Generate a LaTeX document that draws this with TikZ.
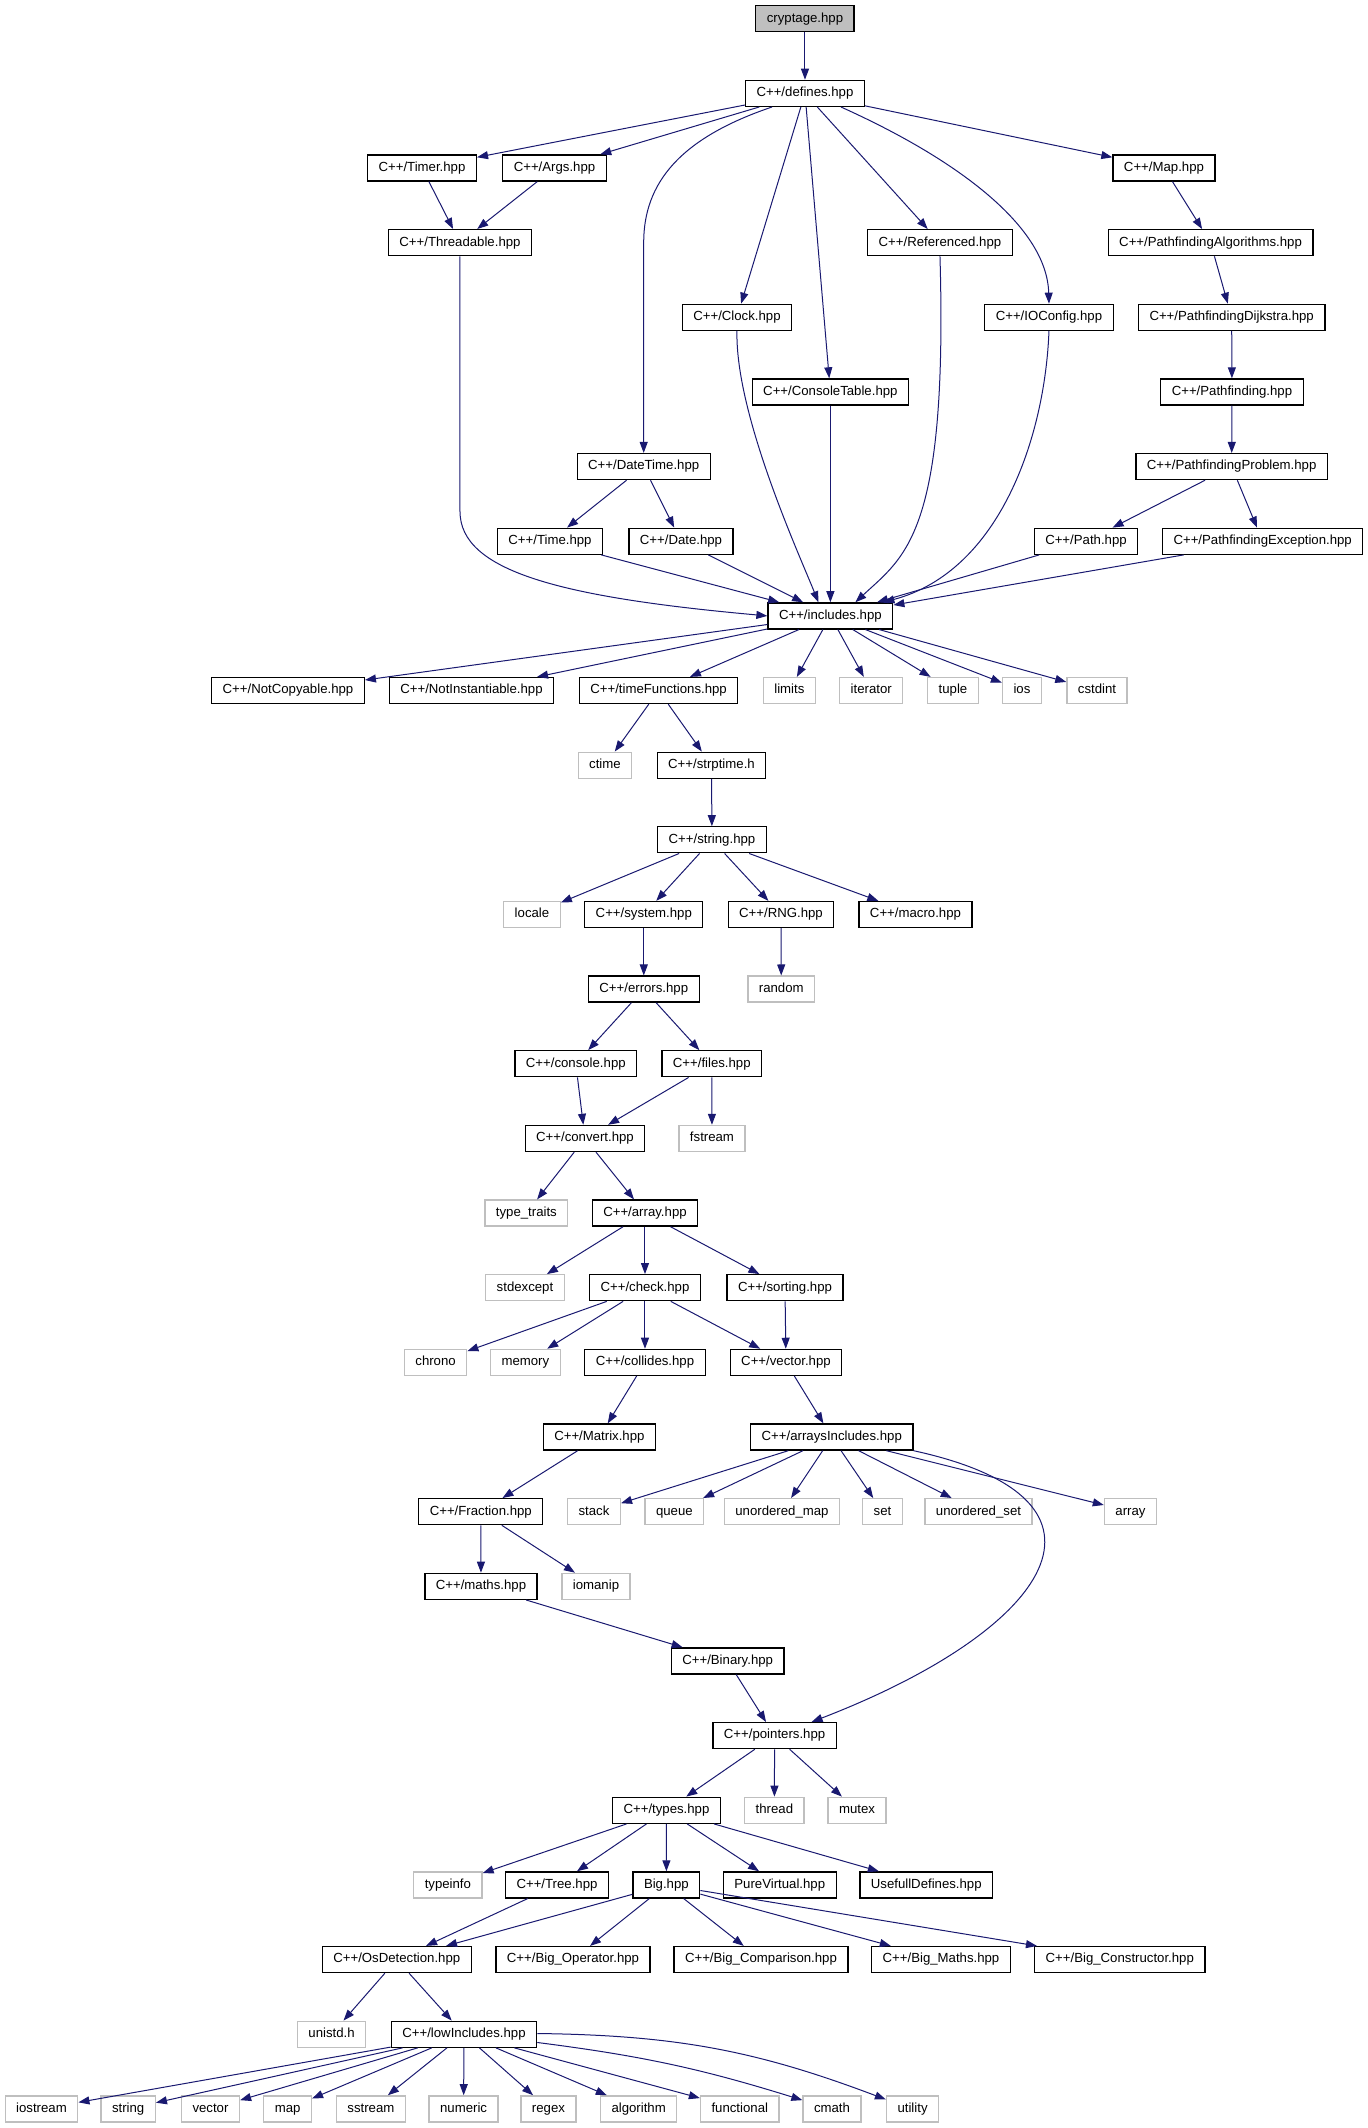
\documentclass[tikz,border=0pt]{standalone}
\usepackage{fontspec}
\setmainfont{Liberation Sans}
\usetikzlibrary{arrows.meta}
\definecolor{edgeblue}{HTML}{191970}
\definecolor{sysgray}{HTML}{BFBFBF}
\begin{document}
\begin{tikzpicture}[x=1pt,y=-74.65pt,>={Triangle[length=11pt,width=8pt]},
hdr/.style={draw,rectangle,line width=1.3pt,inner xsep=11pt,inner ysep=0pt,minimum height=26pt,text height=9.5pt,text depth=2.8pt,font=\fontsize{13.2}{15}\selectfont},
sys/.style={hdr,draw=sysgray},
root/.style={hdr,fill=sysgray},
dep/.style={->,draw=edgeblue,line width=1pt}]
\useasboundingbox (0,-0.2505) rectangle (1368,28.2566);
% top part
\draw (805,0) node[root] (crypt) {cryptage.hpp};
\draw (805,1) node[hdr] (defines) {C++/defines.hpp};
\draw (422,2) node[hdr] (timer) {C++/Timer.hpp};
\draw (554.5,2) node[hdr] (args) {C++/Args.hpp};
\draw (1164,2) node[hdr] (map) {C++/Map.hpp};
\draw (460,3) node[hdr] (thrd) {C++/Threadable.hpp};
\draw (940,3) node[hdr] (refd) {C++/Referenced.hpp};
\draw (1210.6,3) node[hdr] (palg) {C++/PathfindingAlgorithms.hpp};
\draw (737,4) node[hdr] (clock) {C++/Clock.hpp};
\draw (1049,4) node[hdr] (iocfg) {C++/IOConfig.hpp};
\draw (1231.7,4) node[hdr] (pdij) {C++/PathfindingDijkstra.hpp};
\draw (830.4,5) node[hdr] (ctab) {C++/ConsoleTable.hpp};
\draw (1232,5) node[hdr] (pfind) {C++/Pathfinding.hpp};
\draw (643.7,6) node[hdr] (dtime) {C++/DateTime.hpp};
\draw (1231.7,6) node[hdr] (pprob) {C++/PathfindingProblem.hpp};
\draw (550,7) node[hdr] (time) {C++/Time.hpp};
\draw (681,7) node[hdr] (date) {C++/Date.hpp};
\draw (1086,7) node[hdr] (path) {C++/Path.hpp};
\draw (1262.7,7) node[hdr] (pexc) {C++/PathfindingException.hpp};
\draw (830.4,8) node[hdr] (incl) {C++/includes.hpp};
\draw (288,9) node[hdr] (ncopy) {C++/NotCopyable.hpp};
\draw (471.5,9) node[hdr] (ninst) {C++/NotInstantiable.hpp};
\draw (658.6,9) node[hdr] (tfun) {C++/timeFunctions.hpp};
\draw (789.4,9) node[sys] (limits) {limits};
\draw (871.3,9) node[sys] (iter) {iterator};
\draw (953,9) node[sys] (tuple) {tuple};
\draw (1022,9) node[sys] (ios) {ios};
\draw (1097,9) node[sys] (cstdint) {cstdint};
% middle part
\draw (605,10) node[sys] (ctime) {ctime};
\draw (711.5,10) node[hdr] (strp) {C++/strptime.h};
\draw (712,11) node[hdr] (str) {C++/string.hpp};
\draw (532,12) node[sys] (locale) {locale};
\draw (643.8,12) node[hdr] (system) {C++/system.hpp};
\draw (781,12) node[hdr] (rng) {C++/RNG.hpp};
\draw (915.5,12) node[hdr] (macro) {C++/macro.hpp};
\draw (643.8,13) node[hdr] (errors) {C++/errors.hpp};
\draw (781.3,13) node[sys] (random) {random};
\draw (575.8,14) node[hdr] (console) {C++/console.hpp};
\draw (711.8,14) node[hdr] (files) {C++/files.hpp};
\draw (585,15) node[hdr] (convert) {C++/convert.hpp};
\draw (712,15) node[sys] (fstream) {fstream};
\draw (526.4,16) node[sys] (ttraits) {type\_traits};
\draw (645,16) node[hdr] (arr) {C++/array.hpp};
\draw (525,17) node[sys] (stdexc) {stdexcept};
\draw (645,17) node[hdr] (check) {C++/check.hpp};
\draw (785,17) node[hdr] (sorting) {C++/sorting.hpp};
\draw (435.6,18) node[sys] (chrono) {chrono};
\draw (525.4,18) node[sys] (memory) {memory};
\draw (645,18) node[hdr] (collides) {C++/collides.hpp};
\draw (786,18) node[hdr] (vec) {C++/vector.hpp};
\draw (599.4,19) node[hdr] (matrix) {C++/Matrix.hpp};
\draw (831.8,19) node[hdr] (arrinc) {C++/arraysIncludes.hpp};
\draw (480.8,20) node[hdr] (fraction) {C++/Fraction.hpp};
\draw (594,20) node[sys] (stack) {stack};
\draw (674.4,20) node[sys] (queue) {queue};
\draw (782,20) node[sys] (umap) {unordered\_map};
\draw (882.5,20) node[sys] (set) {set};
\draw (978.5,20) node[sys] (uset) {unordered\_set};
\draw (1130.5,20) node[sys] (sArray) {array};
\draw (481,21) node[hdr] (maths) {C++/maths.hpp};
\draw (596,21) node[sys] (iomanip) {iomanip};
% bottom part
\draw (727.7,22) node[hdr] (binary) {C++/Binary.hpp};
\draw (774.6,23) node[hdr] (ptrs) {C++/pointers.hpp};
\draw (666.5,24) node[hdr] (types) {C++/types.hpp};
\draw (774.4,24) node[sys] (thread) {thread};
\draw (857,24) node[sys] (mutex) {mutex};
\draw (447.9,25) node[sys] (typeinfo) {typeinfo};
\draw (557,25) node[hdr] (tree) {C++/Tree.hpp};
\draw (666.4,25) node[hdr] (big) {Big.hpp};
\draw (779.8,25) node[hdr] (purev) {PureVirtual.hpp};
\draw (926.3,25) node[hdr] (usefull) {UsefullDefines.hpp};
\draw (396.8,26) node[hdr] (osdet) {C++/OsDetection.hpp};
\draw (573,26) node[hdr] (bigop) {C++/Big\_Operator.hpp};
\draw (761,26) node[hdr] (bigcmp) {C++/Big\_Comparison.hpp};
\draw (941,26) node[hdr] (bigmath) {C++/Big\_Maths.hpp};
\draw (1119.8,26) node[hdr] (bigctor) {C++/Big\_Constructor.hpp};
\draw (331.6,27) node[sys] (unistd) {unistd.h};
\draw (464,27) node[hdr] (lowinc) {C++/lowIncludes.hpp};
\draw (41.5,28) node[sys] (iostream) {iostream};
\draw (128.2,28) node[sys] (sString) {string};
\draw (210.5,28) node[sys] (sVector) {vector};
\draw (287.6,28) node[sys] (sMap) {map};
\draw (370.9,28) node[sys] (sstream) {sstream};
\draw (463.6,28) node[sys] (numeric) {numeric};
\draw (548.5,28) node[sys] (regex) {regex};
\draw (638.7,28) node[sys] (algo) {algorithm};
\draw (739.8,28) node[sys] (functional) {functional};
\draw (832,28) node[sys] (cmath) {cmath};
\draw (912.6,28) node[sys] (utility) {utility};
% edges
\draw[dep] (crypt) -- (defines);
\draw[dep] (defines) -- (timer);
\draw[dep] (defines) -- (args);
\draw[dep] ([xshift=-33pt]defines.south) .. controls (680,1.6) and (643.7,2.2) .. (643.7,3) -- (dtime.north);
\draw[dep] (defines) -- (clock);
\draw[dep] (defines) -- (ctab);
\draw[dep] (defines) -- (refd);
\draw[dep] ([xshift=36pt]defines.south) .. controls (960,1.9) and (1047,2.8) .. (iocfg.north);
\draw[dep] (defines) -- (map);
\draw[dep] (timer) -- (thrd);
\draw[dep] (args) -- (thrd);
\draw[dep] (thrd.south) -- (460,6.6) .. controls (460,7.4) and (560,7.75) .. (incl.west);
\draw[dep] (refd.south) .. controls (948,6.9) and (905,7.2) .. ([xshift=25pt]incl.north);
\draw[dep] (clock.south) .. controls (735,5.3) and (800,7.2) .. ([xshift=-12pt]incl.north);
\draw[dep] (ctab) -- (incl);
\draw[dep] (iocfg.south) .. controls (1045,5.6) and (1000,7.4) .. ([xshift=53pt]incl.north);
\draw[dep] (map) -- (palg);
\draw[dep] (palg) -- (pdij);
\draw[dep] (pdij) -- (pfind);
\draw[dep] (pfind) -- (pprob);
\draw[dep] (pprob) -- (path);
\draw[dep] (pprob) -- (pexc);
\draw[dep] (path) -- (incl);
\draw[dep] (pexc) -- (incl);
\draw[dep] (dtime) -- (time);
\draw[dep] (dtime) -- (date);
\draw[dep] (time) -- (incl);
\draw[dep] (date) -- (incl);
\foreach \t in {ncopy,ninst,tfun,limits,iter,tuple,ios,cstdint}
  \draw[dep] (incl) -- (\t);
\draw[dep] (tfun) -- (ctime);
\draw[dep] (tfun) -- (strp);
\draw[dep] (strp) -- (str);
\foreach \t in {locale,system,rng,macro}
  \draw[dep] (str) -- (\t);
\draw[dep] (system) -- (errors);
\draw[dep] (rng) -- (random);
\draw[dep] (errors) -- (console);
\draw[dep] (errors) -- (files);
\draw[dep] (console) -- (convert);
\draw[dep] (files) -- (convert);
\draw[dep] (files) -- (fstream);
\draw[dep] (convert) -- (ttraits);
\draw[dep] (convert) -- (arr);
\foreach \t in {stdexc,check,sorting}
  \draw[dep] (arr) -- (\t);
\foreach \t in {chrono,memory,collides,vec}
  \draw[dep] (check) -- (\t);
\draw[dep] (sorting) -- (vec);
\draw[dep] (collides) -- (matrix);
\draw[dep] (vec) -- (arrinc);
\draw[dep] (matrix) -- (fraction);
\foreach \t in {stack,queue,umap,set,uset,sArray}
  \draw[dep] (arrinc) -- (\t);
\draw[dep] (arrinc.south east) .. controls (1140,19.843) and (1050,21.585) .. ([xshift=37pt]ptrs.north);
\draw[dep] (fraction) -- (maths);
\draw[dep] (fraction) -- (iomanip);
\draw[dep] (maths) -- (binary);
\draw[dep] (binary) -- (ptrs);
\foreach \t in {types,thread,mutex}
  \draw[dep] (ptrs) -- (\t);
\foreach \t in {typeinfo,tree,big,purev,usefull}
  \draw[dep] (types) -- (\t);
\draw[dep] (tree) -- (osdet);
\foreach \t in {osdet,bigop,bigcmp,bigmath,bigctor}
  \draw[dep] (big) -- (\t);
\draw[dep] (osdet) -- (unistd);
\draw[dep] (osdet) -- (lowinc);
\foreach \t in {iostream,sString,sVector,sMap,sstream,numeric,regex,algo,functional}
  \draw[dep] (lowinc) -- (\t);
\draw[dep] (lowinc) to[bend left=5] (cmath);
\draw[dep] (lowinc) to[bend left=10] (utility);
\end{tikzpicture}
\end{document}
